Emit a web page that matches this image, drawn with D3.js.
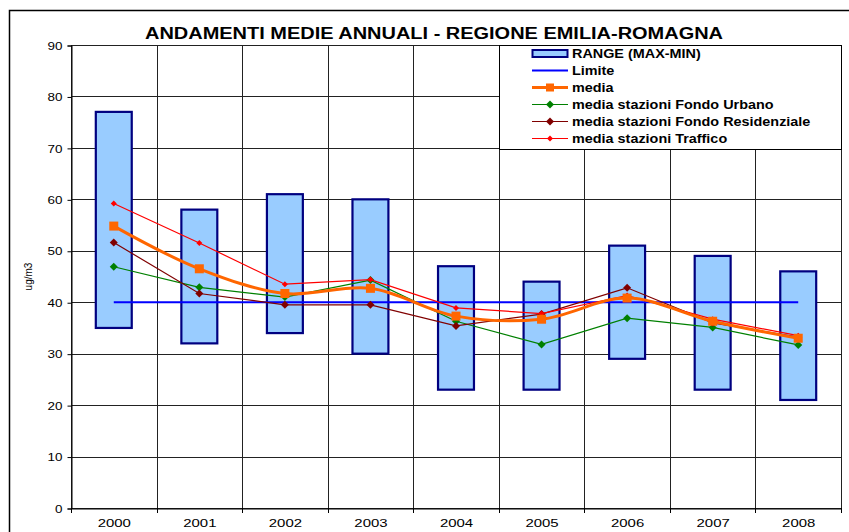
<!DOCTYPE html>
<html>
<head>
<meta charset="utf-8">
<script src="https://cdn.jsdelivr.net/npm/d3@7"></script>
<style>
  html, body { margin: 0; padding: 0; background: #fff; }
  svg { display: block; font-family: "Liberation Sans", Arial, sans-serif; }
</style>
</head>
<body>
<svg id="chart" width="849" height="532"></svg>
<script>
// Annual PM10 averages, Emilia-Romagna region
const years = ["2000", "2001", "2002", "2003", "2004", "2005", "2006", "2007", "2008"];
const rangeMax = [77, 58, 61, 60, 47, 44, 51, 49, 46];
const rangeMin = [35, 32, 34, 30, 23, 23, 29, 23, 21];
const limite = [40, 40, 40, 40, 40, 40, 40, 40, 40];
const media = [54.8, 46.5, 41.7, 42.7, 37.3, 36.7, 40.8, 36.3, 33.0];
const fondoUrbano = [46.9, 42.9, 41.0, 44.3, 36.3, 31.8, 36.9, 35.1, 31.7];
const fondoResidenziale = [51.6, 41.7, 39.5, 39.5, 35.4, 37.7, 42.8, 36.0, 33.2];
const traffico = [59.2, 51.5, 43.5, 44.4, 38.9, 37.8, 41.3, 36.7, 33.5];
const yTicks = [0, 10, 20, 30, 40, 50, 60, 70, 80, 90];

const svg = d3.select("#chart");

// widen text horizontally about its own x position
function stretch(sel, sx) {
  sel.each(function () {
    const t = d3.select(this);
    const x0 = +t.attr("x") || 0;
    t.attr("transform", `translate(${x0},0) scale(${sx},1) translate(${-x0},0)`);
  });
}

// outer chart frame
svg.append("rect")
  .attr("x", 9.5).attr("y", 10.5)
  .attr("width", 860).attr("height", 560)
  .attr("fill", "none").attr("stroke", "#000").attr("stroke-width", 1.5);

const plot = { left: 71, right: 841, top: 45, bottom: 508 };

const x = d3.scaleBand().domain(years).range([plot.left, plot.right]).padding(0);
const y = d3.scaleLinear().domain([0, 90]).range([plot.bottom, plot.top]);
const cx = d => x(d) + x.bandwidth() / 2;

// horizontal grid
svg.append("g").selectAll("line").data(yTicks).join("line")
  .attr("x1", plot.left).attr("x2", plot.right)
  .attr("y1", d => Math.round(y(d)) + 0.5).attr("y2", d => Math.round(y(d)) + 0.5)
  .attr("stroke", "#222").attr("stroke-width", 1);

// vertical grid at category boundaries
const bounds = years.map(d => x(d)).concat([plot.right]);
svg.append("g").selectAll("line").data(bounds).join("line")
  .attr("x1", d => Math.round(d) + 0.5).attr("x2", d => Math.round(d) + 0.5)
  .attr("y1", plot.top).attr("y2", plot.bottom)
  .attr("stroke", "#222").attr("stroke-width", 1);

// axes
const yAxis = d3.axisLeft(y).tickValues(yTicks).tickSize(4).tickPadding(5);
const gy = svg.append("g").attr("transform", `translate(${plot.left + 0.5},0.5)`).call(yAxis);
gy.select(".domain").attr("stroke", "#000");
gy.selectAll("text").attr("font-size", 11.5).attr("fill", "#000")
  .attr("font-family", "'Liberation Sans', Arial, sans-serif");
stretch(gy.selectAll("text"), 1.17);

const xAxis = d3.axisBottom(x).tickSize(0).tickPadding(10);
const gx = svg.append("g").attr("transform", `translate(0.5,${plot.bottom + 0.5})`).call(xAxis);
gx.select(".domain").attr("stroke", "#000");
gx.selectAll("text").attr("font-size", 11.5).attr("fill", "#000")
  .attr("font-family", "'Liberation Sans', Arial, sans-serif");
stretch(gx.selectAll("text"), 1.3);
// tick marks at category boundaries below the axis
svg.append("g").selectAll("line").data(bounds).join("line")
  .attr("x1", d => Math.round(d) + 0.5).attr("x2", d => Math.round(d) + 0.5)
  .attr("y1", plot.bottom).attr("y2", plot.bottom + 5)
  .attr("stroke", "#000");

// y axis title
svg.append("text")
  .attr("transform", `translate(32,${(y(40) + y(50)) / 2}) rotate(-90)`)
  .attr("text-anchor", "middle").attr("font-size", 10).attr("fill", "#000")
  .text("ug/m3");

// chart title
svg.append("text")
  .attr("x", 434).attr("y", 39)
  .attr("text-anchor", "middle").attr("font-size", 16).attr("font-weight", "bold")
  .attr("fill", "#000")
  .attr("textLength", 578).attr("lengthAdjust", "spacingAndGlyphs")
  .text("ANDAMENTI MEDIE ANNUALI - REGIONE EMILIA-ROMAGNA");

// range boxes (max-min)
const barW = x.bandwidth() * 0.42;
svg.append("g").selectAll("rect").data(years).join("rect")
  .attr("x", d => cx(d) - barW / 2)
  .attr("y", (d, i) => y(rangeMax[i]))
  .attr("width", barW)
  .attr("height", (d, i) => y(rangeMin[i]) - y(rangeMax[i]))
  .attr("fill", "#99CCFF").attr("stroke", "#000080").attr("stroke-width", 2.2);

// limit line
const straight = d3.line().x((d, i) => cx(years[i])).y(d => y(d));
svg.append("path").datum(limite).attr("d", straight)
  .attr("fill", "none").attr("stroke", "#0000FF").attr("stroke-width", 2);

function diamond(g, data, color, size) {
  g.selectAll("path.mk").data(data).join("path").attr("class", "mk")
    .attr("d", (d, i) => {
      const px = cx(years[i]), py = y(d), s = size;
      return `M${px},${py - s}L${px + s},${py}L${px},${py + s}L${px - s},${py}Z`;
    })
    .attr("fill", color);
}

// station-type series
const series = [
  { data: fondoUrbano, color: "#008000", size: 4 },
  { data: fondoResidenziale, color: "#800000", size: 4 },
  { data: traffico, color: "#FF0000", size: 3 }
];
series.forEach(s => {
  const g = svg.append("g");
  g.append("path").datum(s.data).attr("d", straight)
    .attr("fill", "none").attr("stroke", s.color).attr("stroke-width", 1.2);
  diamond(g, s.data, s.color, s.size);
});

// overall mean, smoothed
const smooth = d3.line().x((d, i) => cx(years[i])).y(d => y(d)).curve(d3.curveCatmullRom.alpha(0.5));
const gm = svg.append("g");
gm.append("path").datum(media).attr("d", smooth)
  .attr("fill", "none").attr("stroke", "#FF6600").attr("stroke-width", 3);
gm.selectAll("rect").data(media).join("rect")
  .attr("x", (d, i) => cx(years[i]) - 4.5).attr("y", d => y(d) - 4.5)
  .attr("width", 9).attr("height", 9).attr("fill", "#FF6600");

// legend
const lg = svg.append("g");
lg.append("rect").attr("x", 499.5).attr("y", 45.5).attr("width", 342).attr("height", 104)
  .attr("fill", "#fff").attr("stroke", "#000").attr("stroke-width", 1);
const items = [
  { label: "RANGE (MAX-MIN)", type: "box" },
  { label: "Limite", type: "line", color: "#0000FF", w: 2 },
  { label: "media", type: "square", color: "#FF6600", w: 3 },
  { label: "media stazioni Fondo Urbano", type: "diamond", color: "#008000", w: 1.2, s: 4 },
  { label: "media stazioni Fondo Residenziale", type: "diamond", color: "#800000", w: 1.2, s: 4 },
  { label: "media stazioni Traffico", type: "diamond", color: "#FF0000", w: 1.2, s: 3 }
];
items.forEach((it, i) => {
  const yy = 53.5 + i * 17;
  const x0 = 532, x1 = 568, xm = (x0 + x1) / 2;
  if (it.type === "box") {
    lg.append("rect").attr("x", x0 + 0.5).attr("y", yy - 3.5).attr("width", x1 - x0 - 1).attr("height", 7)
      .attr("fill", "#99CCFF").attr("stroke", "#000080").attr("stroke-width", 2);
  } else {
    lg.append("line").attr("x1", x0).attr("x2", x1).attr("y1", yy).attr("y2", yy)
      .attr("stroke", it.color).attr("stroke-width", it.w);
    if (it.type === "square") {
      lg.append("rect").attr("x", xm - 4).attr("y", yy - 4).attr("width", 8).attr("height", 8).attr("fill", it.color);
    } else if (it.type === "diamond") {
      const s = it.s;
      lg.append("path").attr("d", `M${xm},${yy - s}L${xm + s},${yy}L${xm},${yy + s}L${xm - s},${yy}Z`).attr("fill", it.color);
    }
  }
  const t = lg.append("text").attr("x", 572).attr("y", yy + 4.5)
    .attr("font-size", 12).attr("font-weight", "bold").attr("fill", "#000")
    .text(it.label);
  stretch(t, 1.2);
});
</script>
</body>
</html>
